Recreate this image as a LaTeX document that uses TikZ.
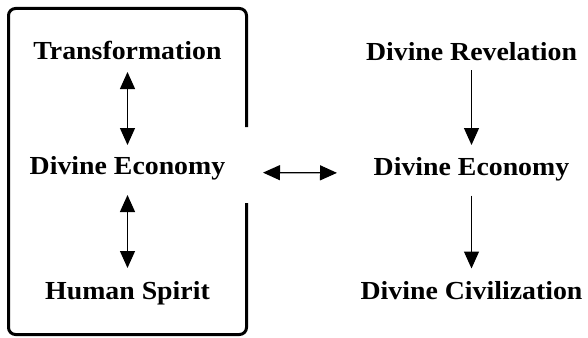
\documentclass[tikz,border=0pt]{standalone}
\usepackage{fontspec}
\newfontfamily\lblfont{Liberation Serif}[FakeStretch=1.07]
\usetikzlibrary{arrows.meta}
\begin{document}
\begin{tikzpicture}[x=1pt,y=-1pt,
  lbl/.style={font=\lblfont\bfseries\fontsize{26}{31}\selectfont, inner sep=0pt, outer sep=0pt,
    text height=17pt, text depth=8pt, anchor=base},
  conn/.style={line width=1.2pt, {Triangle[length=17pt,width=15pt]}-{Triangle[length=17pt,width=15pt]}},
  oneway/.style={line width=1.2pt, -{Triangle[length=17pt,width=15pt]}},
  frame/.style={line width=3pt, rounded corners=7pt}]
\useasboundingbox (0,0) rectangle (588,337);
% left column
\node[lbl, minimum width=189pt] (tr)  at (127.5,59.5)  {Transformation};
\node[lbl, minimum width=199pt] (lde) at (127.5,174.5) {Divine Economy};
\node[lbl, minimum width=166pt] (hs)  at (127.5,299)   {Human Spirit};
% right column
\node[lbl, minimum width=219pt] (dr)  at (471.5,60)    {Divine Revelation};
\node[lbl, minimum width=205pt] (rde) at (471.5,175)   {Divine Economy};
\node[lbl, minimum width=225pt] (dc)  at (471.5,299)   {Divine Civilization};
% frame
\draw[frame] (246.5,127) -- (246.5,8.5) -- (8.5,8.5) -- (8.5,334.5) -- (246.5,334.5) -- (246.5,203);
% connectors
\draw[conn, shorten <=4.5pt, shorten >=12.5pt] (tr) -- (lde);
\draw[conn, shorten <=12.5pt, shorten >=14pt] (lde) -- (hs);
\draw[oneway, shorten <=2pt, shorten >=13pt] (dr) -- (rde);
\draw[oneway, shorten <=12.5pt, shorten >=13.5pt] (rde) -- (dc);
\draw[conn, shorten <=36pt, shorten >=32pt] ([yshift=-2.5pt]lde.east) -- ([yshift=-2.5pt]rde.west);
\end{tikzpicture}
\end{document}
